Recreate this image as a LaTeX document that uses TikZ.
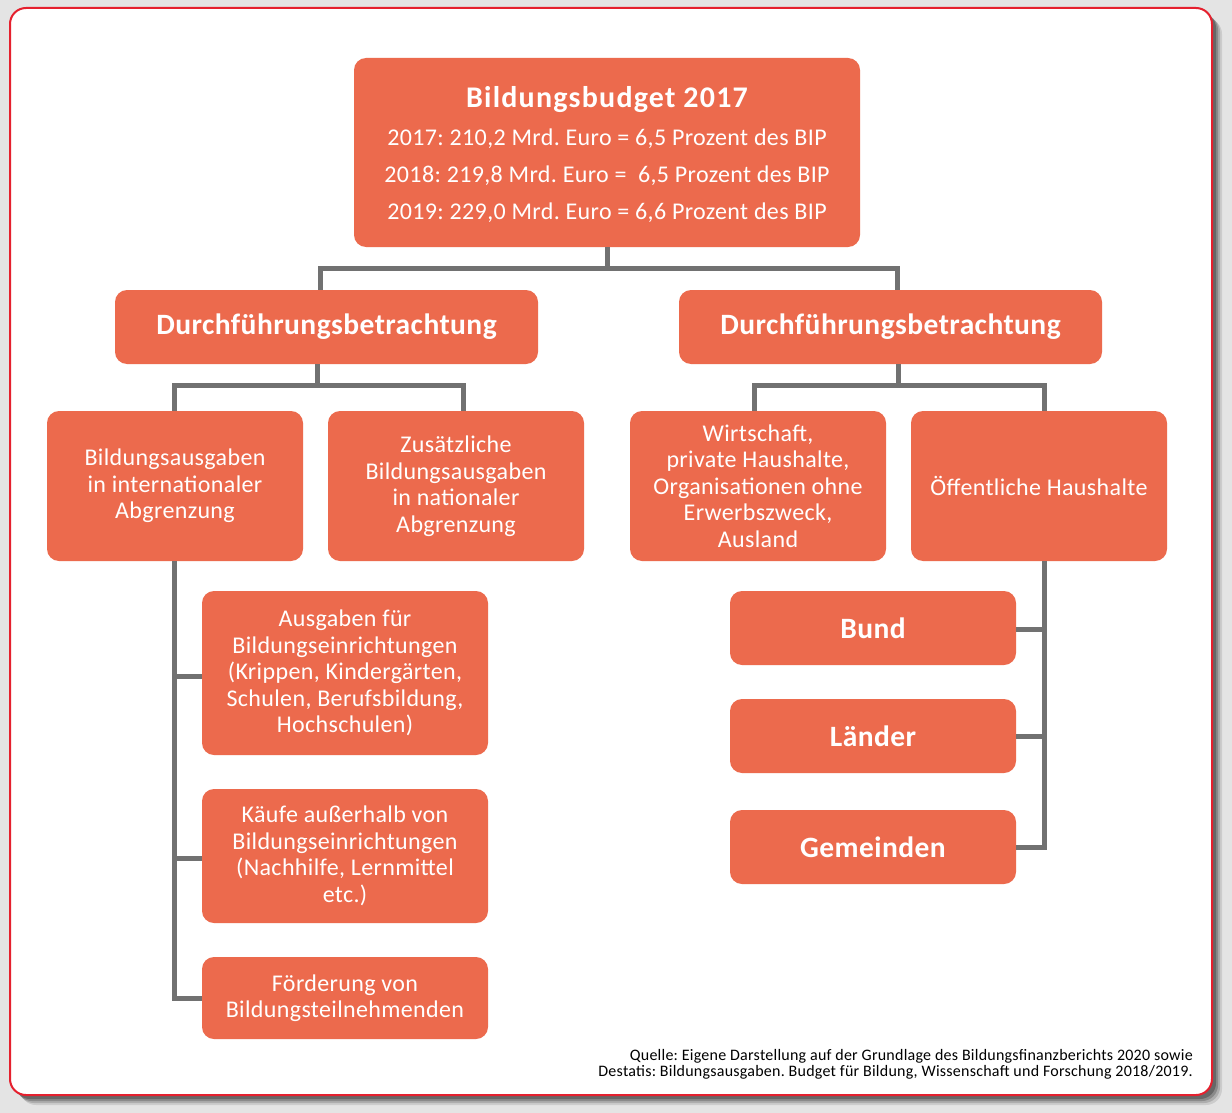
\documentclass[tikz,border=0pt]{standalone}
\usepackage{fontspec}
\setmainfont{Carlito}[LetterSpace=1.5]
\newfontfamily\wideb{Carlito}[LetterSpace=4]
\usetikzlibrary{calc}
\definecolor{boxc}{RGB}{236,106,77}
\definecolor{linec}{RGB}{113,113,113}
\definecolor{bgc}{RGB}{228,228,228}
\definecolor{framec}{RGB}{229,32,46}
\tikzset{
  box/.style={fill=boxc, rounded corners=12pt, text=white, align=center, inner sep=0pt, font=\fontsize{24}{26.5}\selectfont},
  bbox/.style={box, font=\fontsize{29.5}{32}\selectfont\bfseries},
  conn/.style={draw=linec, line width=5pt, line join=miter, line cap=butt},
  foot/.style={align=right, inner sep=0pt, font=\fontsize{16}{16.5}\selectfont}
}
\frenchspacing
\begin{document}
\begin{tikzpicture}[x=1pt,y=-1pt]
\useasboundingbox (0,0) rectangle (1232,1113);
\fill[bgc] (0,0) rectangle (1232,1113);
% shadow
\foreach \o/\op in {10/0.10,8/0.15,6/0.2,4/0.25}{
  \fill[black, opacity=\op, rounded corners=16pt] (10+\o,8+\o) rectangle (1212+\o,1095+\o);
}
\filldraw[fill=white, draw=framec, line width=2pt, rounded corners=16pt] (10,8) rectangle (1212,1095);

% nodes
\node[box, minimum width=506pt, minimum height=189pt] (top) at (607,152.5) {};
\node[font=\fontsize{30}{32}\selectfont\wideb\bfseries, text=white, inner sep=0pt] (toptitle) at (607,100) {Bildungsbudget 2017};
\node[font=\fontsize{24}{37}\selectfont, text=white, align=center, inner sep=0pt] (toplines) at (607,176) {2017: 210,2 Mrd. Euro = 6,5 Prozent des BIP\\2018: 219,8 Mrd. Euro =\ \ 6,5 Prozent des BIP\\2019: 229,0 Mrd. Euro = 6,6 Prozent des BIP};

\node[bbox, minimum width=423pt, minimum height=74pt] (ld) at (326.5,327) {Durchführungsbetrachtung};
\node[bbox, minimum width=423pt, minimum height=74pt] (rd) at (890.5,327) {Durchführungsbetrachtung};

\node[box, minimum width=256pt, minimum height=150pt] (b1) at (175,486) {Bildungsausgaben\\in internationaler\\Abgrenzung};
\node[box, minimum width=256pt, minimum height=150pt] (b2) at (456,486) {Zusätzliche\\Bildungsausgaben\\in nationaler\\Abgrenzung};
\node[box, minimum width=256pt, minimum height=150pt] (b3) at (758,486) {Wirtschaft,\\private Haushalte,\\Organisationen ohne\\Erwerbszweck,\\Ausland};
\node[box, minimum width=256pt, minimum height=150pt] (b4) at (1039,486) {Öffentliche Haushalte};

\node[box, minimum width=286pt, minimum height=164pt] (la) at (345,673) {Ausgaben für\\Bildungseinrichtungen\\(Krippen, Kindergärten,\\Schulen, Berufsbildung,\\Hochschulen)};
\node[box, minimum width=286pt, minimum height=134pt] (lb) at (345,856) {Käufe außerhalb von\\Bildungseinrichtungen\\(Nachhilfe, Lernmittel\\etc.)};
\node[box, minimum width=286pt, minimum height=82pt] (lc) at (345,998) {Förderung von\\Bildungsteilnehmenden};

\node[bbox, minimum width=286pt, minimum height=74pt] (bund) at (873,628) {Bund};
\node[bbox, minimum width=286pt, minimum height=74pt] (laender) at (873,736) {Länder};
\node[bbox, minimum width=286pt, minimum height=74pt] (gem) at (873,847) {Gemeinden};

\node[foot, anchor=north east] (src) at (1193,1049) {Quelle: Eigene Darstellung auf der Grundlage des Bildungsfinanzberichts 2020 sowie\\Destatis: Bildungsausgaben. Budget für Bildung, Wissenschaft und Forschung 2018/2019.};

% connectors
\coordinate (tj) at ($(top.south)+(0,21)$);
\draw[conn] (top.south) -- (tj) -| ([xshift=-6.5pt]ld.north);
\draw[conn] (tj) -| ([xshift=6.5pt]rd.north);

\coordinate (lj) at ($([xshift=-9.5pt]ld.south)+(0,21)$);
\draw[conn] ([xshift=-9.5pt]ld.south) -- (lj) -| ([xshift=-1pt]b1.north);
\draw[conn] (lj) -| ([xshift=7pt]b2.north);

\coordinate (rj) at ($([xshift=7.5pt]rd.south)+(0,21)$);
\draw[conn] ([xshift=7.5pt]rd.south) -- (rj) -| ([xshift=-4pt]b3.north);
\draw[conn] (rj) -| ([xshift=5pt]b4.north);

\coordinate (lv) at ([xshift=-1pt]b1.south);
\draw[conn] (lv) |- (lc.west);
\draw[conn] (la.west |- 0,676) -- (lv |- 0,676);
\draw[conn] (lb.west |- 0,858) -- (lv |- 0,858);

\coordinate (rv) at ([xshift=5pt]b4.south);
\draw[conn] (rv) |- (gem.east);
\draw[conn] (bund.east |- 0,629) -- (rv |- 0,629);
\draw[conn] (laender.east) -- (rv |- laender.east);
\end{tikzpicture}
\end{document}
